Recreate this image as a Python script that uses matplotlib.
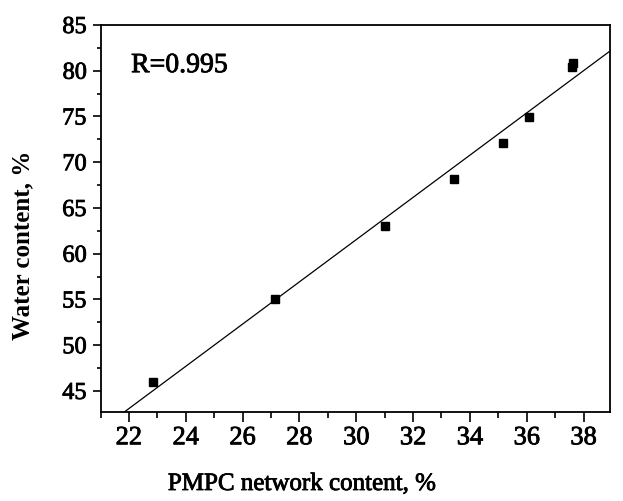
import matplotlib
matplotlib.use("Agg")
import matplotlib.pyplot as plt
import matplotlib.patheffects as pe
import numpy as np
from matplotlib.ticker import MultipleLocator

# Data
pmpc = [22.85, 27.15, 31.01, 33.44, 35.15, 36.08, 37.59, 37.62]
water = [46.0, 55.05, 63.03, 68.22, 72.1, 74.9, 80.4, 80.85]
r_label = "R=0.995"
fit_x_range = [21.85, 39.0]

plt.rcParams['font.family'] = ['Liberation Serif', 'DejaVu Serif']
heavy = [pe.withStroke(linewidth=0.6, foreground='black')]

fig = plt.figure(figsize=(6.23, 5.02), dpi=100)
ax = fig.add_axes([100.5/623, 1-413/502, (610-100.5)/623, (413-26)/502])

slope, intercept = np.polyfit(pmpc, water, 1)
fx = np.array(fit_x_range)
ax.plot(fx, slope*fx + intercept, color='black', lw=0.9)
ax.plot(pmpc, water, 's', color='black', ms=5.5)

ax.set_xlim(21.0, 38.93)
ax.set_ylim(42.7, 85)
ax.xaxis.set_major_locator(MultipleLocator(2))
ax.xaxis.set_minor_locator(MultipleLocator(1))
ax.yaxis.set_major_locator(MultipleLocator(5))
ax.yaxis.set_minor_locator(MultipleLocator(2.5))
ax.tick_params(which='both', direction='out', top=False, right=False, width=1.2)
ax.tick_params(axis='x', which='major', length=7, pad=4, labelsize=19)
ax.tick_params(axis='x', which='minor', length=4.5)
ax.tick_params(axis='y', which='major', length=6, pad=4, labelsize=17.5)
ax.tick_params(axis='y', which='minor', length=3)
ax.set_yticks([45, 50, 55, 60, 65, 70, 75, 80, 85])
for s in ax.spines.values():
    s.set_linewidth(1.3)
for lab in ax.get_xticklabels() + ax.get_yticklabels():
    lab.set_path_effects(heavy)

ax.text(0.06, 0.895, r_label, transform=ax.transAxes, fontsize=20, va='center',
        path_effects=heavy)
fig.text(302/623, 1-485/502, "PMPC network content, %", fontsize=18,
         ha='center', va='center', path_effects=heavy)
fig.text(23/623, 1-245/502, "Water content, %", fontsize=18, fontweight='bold',
         rotation=90, ha='center', va='center')

fig.savefig("out.png", dpi=100)
